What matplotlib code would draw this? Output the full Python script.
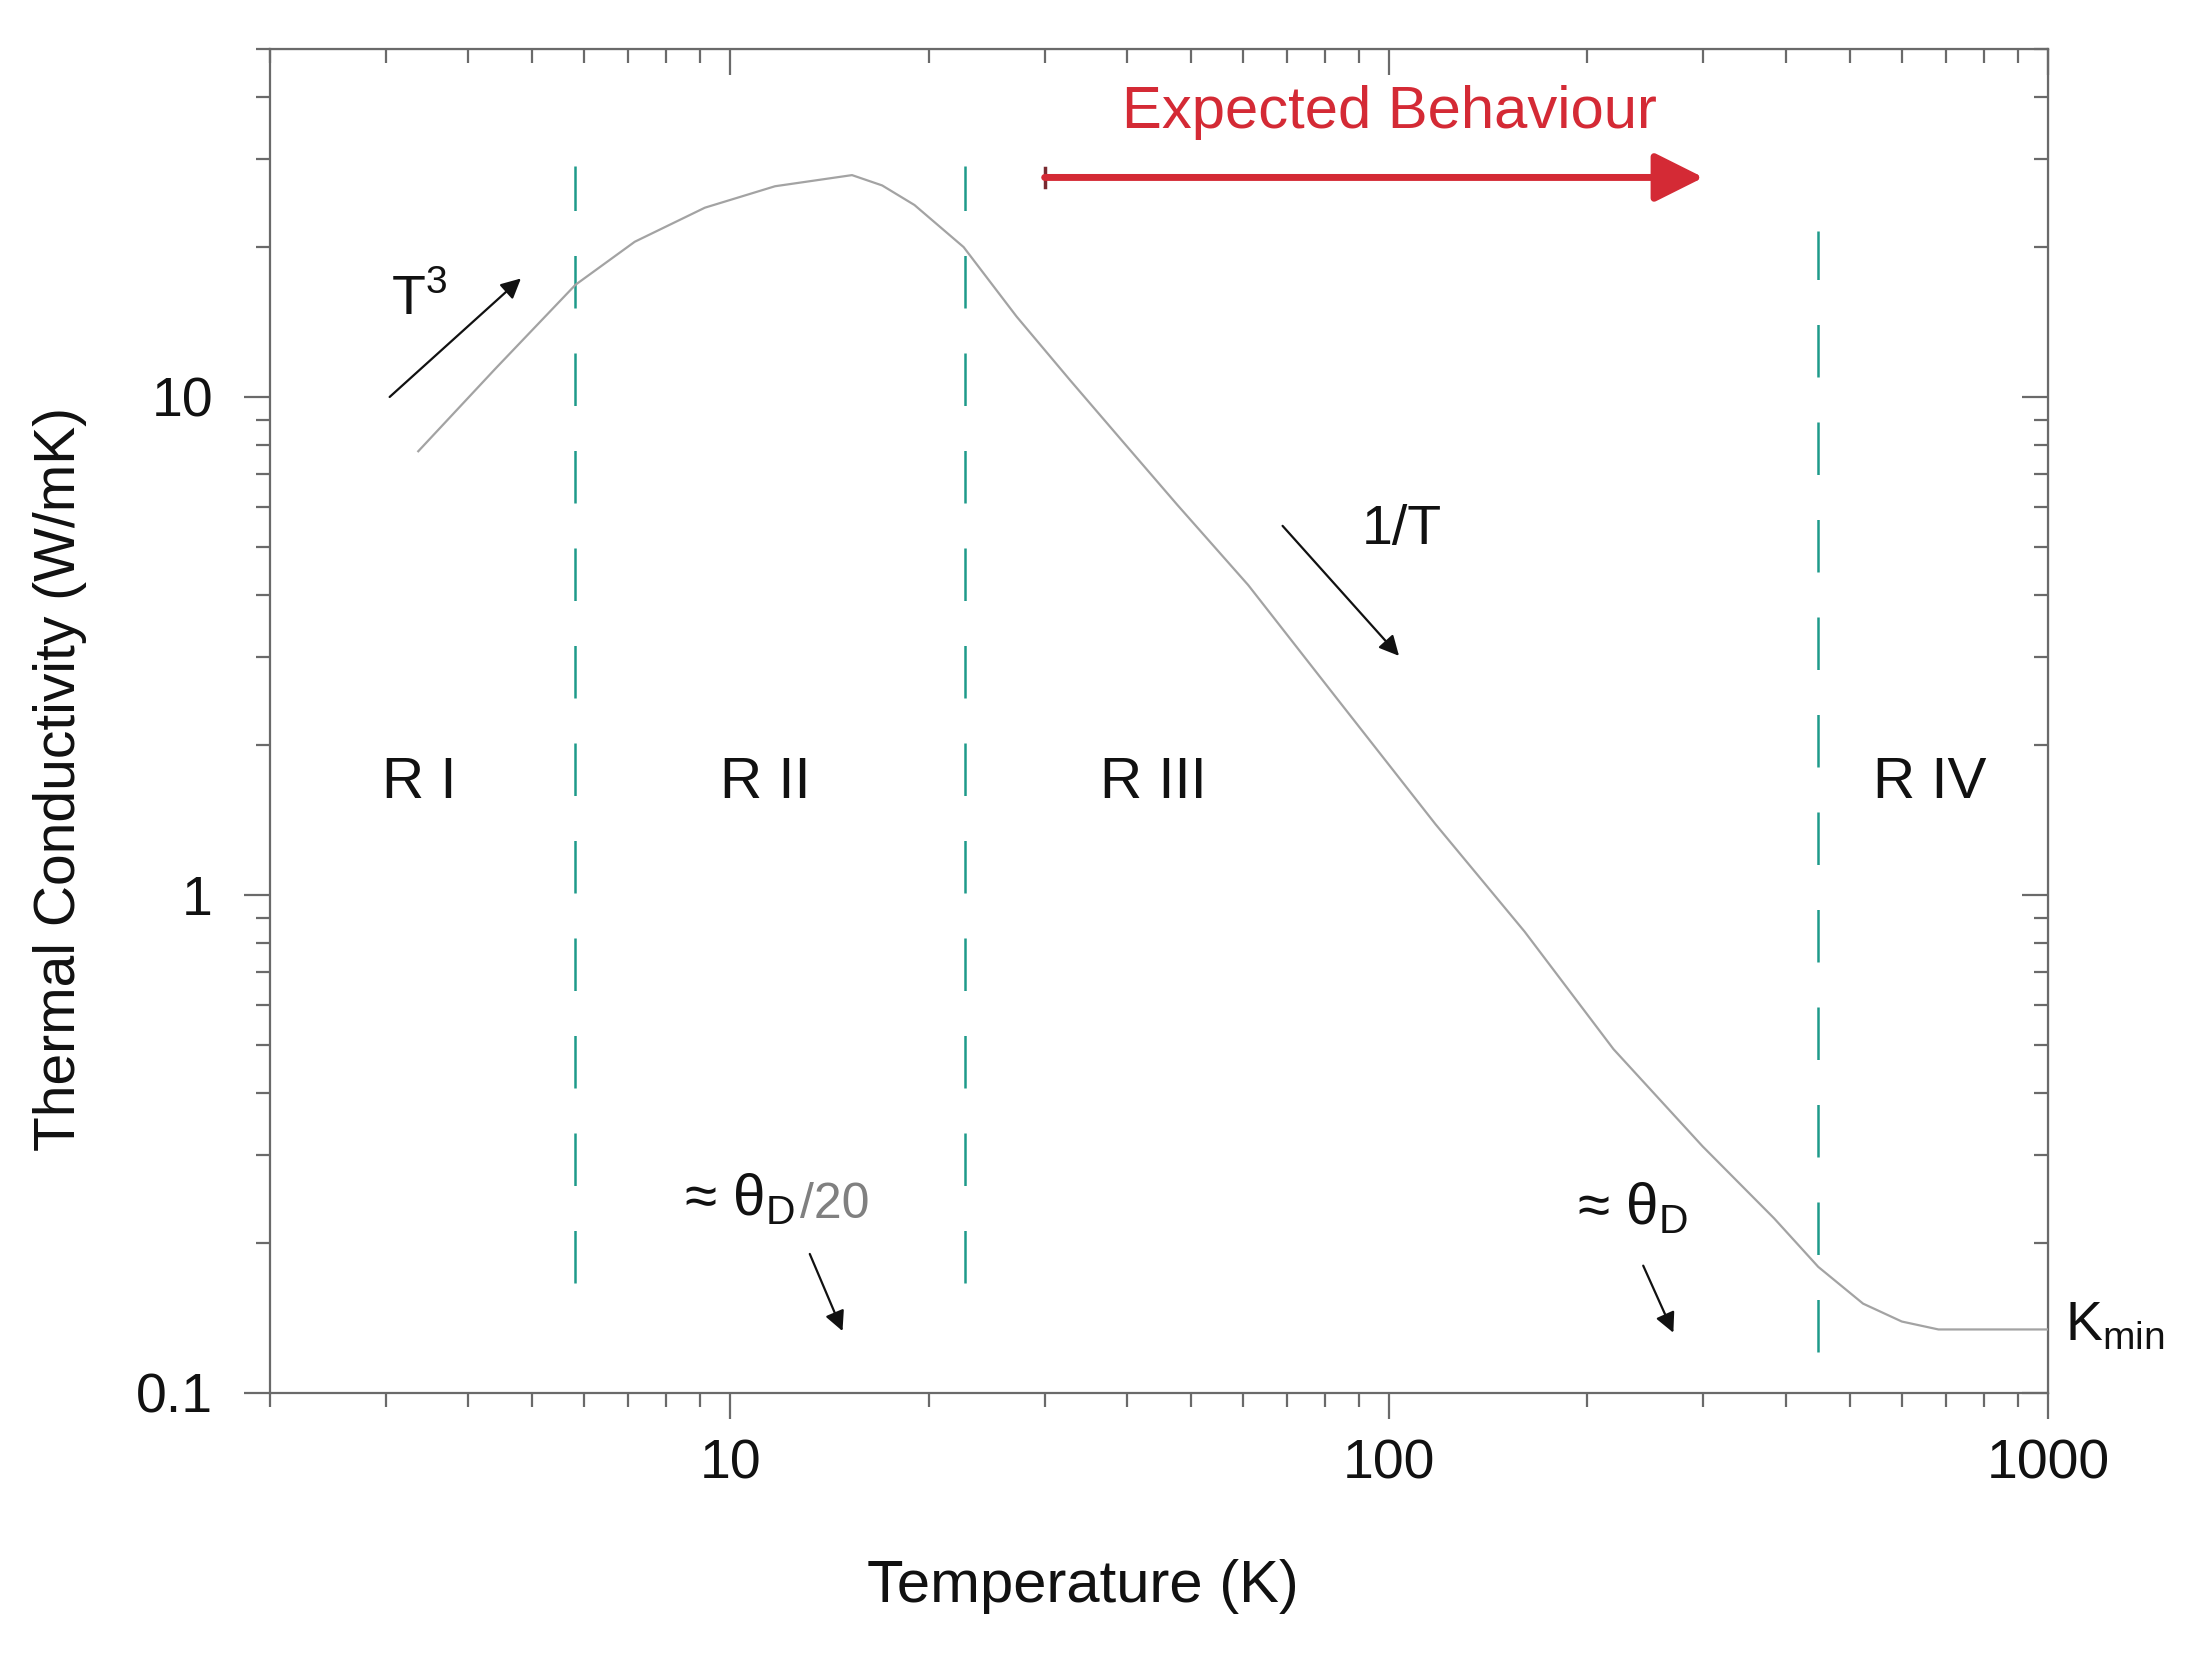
import matplotlib.pyplot as plt
import numpy as np

plt.rcParams['font.family'] = ['Liberation Sans', 'DejaVu Sans']
plt.rcParams['mathtext.fontset'] = 'custom'
plt.rcParams['mathtext.rm'] = 'Liberation Sans'

# データ
temp_k = [3.36, 4.40, 5.82, 7.16, 9.15, 11.69, 15.3, 17.0, 19.03, 22.6,
          27.2, 32.8, 39.5, 47.7, 61.1, 83.5, 117.6, 160.5, 219.0, 299.0,
          384.0, 448.0, 524.0, 600.0, 682.0, 1000.0]
kappa = [7.78, 11.4, 16.8, 20.5, 24.0, 26.5, 27.9, 26.6, 24.3, 20.0,
         14.5, 10.8, 8.11, 6.07, 4.19, 2.47, 1.386, 0.844, 0.49, 0.3126,
         0.224, 0.179, 0.151, 0.139, 0.134, 0.134]

boundary_t = [5.82, 22.7, 447.0]
boundary_kmin = [0.166, 0.166, 0.121]
boundary_kmax = [29.1, 29.1, 21.5]

region_labels = ['R I', 'R II', 'R III', 'R IV']
region_t = [3.37, 11.3, 43.8, 662.0]
region_k = 1.68

x_ticks = [10, 100, 1000]
x_tick_labels = ['10', '100', '1000']
y_ticks = [0.1, 1, 10]
y_tick_labels = ['0.1', '1', '10']

gray_axis = '#6a6a6a'
teal = '#1e9a8a'
red = '#d42a35'

fig = plt.figure(figsize=(21.92, 16.6), dpi=100)
ax = fig.add_axes([0.1231, 0.161, 0.8112, 0.8095])
ax.set_xscale('log')
ax.set_yscale('log')
ax.set_xlim(2, 1000)
ax.set_ylim(0.1, 50)

# 曲線
ax.plot(temp_k, kappa, color='#a3a3a3', lw=1.6, zorder=3)

# 境界線
for t, k0, k1 in zip(boundary_t, boundary_kmin, boundary_kmax):
    ax.plot([t, t], [k0, k1], color=teal, lw=1.8, linestyle=(0, (21, 18)), zorder=2)

# 領域ラベル
for lab, t in zip(region_labels, region_t):
    ax.text(t, region_k, lab, fontsize=42, ha='center', va='center', color='#111111')

# 期待される挙動
ax.annotate('', xy=(300, 27.6), xytext=(30, 27.6),
            arrowprops=dict(arrowstyle='-|>', color=red, lw=5, mutation_scale=75,
                            shrinkA=0, shrinkB=0))
ax.plot([30, 30], [26.4, 28.8], color='#7a2a30', lw=2.5)
ax.text(100, 37.2, 'Expected Behaviour', fontsize=43, color=red, ha='center', va='center')

# 注釈
arrow_kw = dict(arrowstyle='-|>', color='#111111', lw=1.6, mutation_scale=30,
                shrinkA=0, shrinkB=0)
ax.annotate('', xy=(4.81, 17.3), xytext=(3.04, 10.0), arrowprops=arrow_kw)
ax.text(3.05, 15.6, 'T$^\\mathregular{3}$', fontsize=40, ha='left', va='center', color='#111111')

ax.annotate('', xy=(103.5, 3.02), xytext=(68.9, 5.51), arrowprops=arrow_kw)
ax.text(104.5, 5.41, '1/T', fontsize=40, ha='center', va='center', color='#111111')

ax.annotate('', xy=(14.8, 0.133), xytext=(13.2, 0.19), arrowprops=arrow_kw)
ax.text(8.5, 0.244, '≈ θ$_\\mathregular{D}$', fontsize=42, ha='left', va='center', color='#111111')
ax.text(12.75, 0.238, '/20', fontsize=36, ha='left', va='center', color='#808080')

ax.annotate('', xy=(270, 0.132), xytext=(243, 0.18), arrowprops=arrow_kw)
ax.text(193, 0.234, '≈ θ$_\\mathregular{D}$', fontsize=42, ha='left', va='center', color='#111111')

ax.text(1060, 0.136, 'K$_\\mathregular{min}$', fontsize=40, ha='left', va='center',
        color='#111111', clip_on=False)

# 軸
for sp in ax.spines.values():
    sp.set_color(gray_axis)
    sp.set_linewidth(1.6)

ax.set_xticks(x_ticks)
ax.set_xticklabels(x_tick_labels)
ax.set_yticks(y_ticks)
ax.set_yticklabels(y_tick_labels)
ax.tick_params(which='both', direction='out', color=gray_axis, width=1.6,
               labelsize=40, labelcolor='#111111', top=False, right=False)
ax.tick_params(which='major', length=19)
ax.tick_params(which='minor', length=10)
ax.tick_params(axis='x', which='major', pad=14)
ax.tick_params(axis='y', which='major', pad=22)

sec_x = ax.secondary_xaxis('top')
sec_x.tick_params(which='both', direction='in', color=gray_axis, width=1.6, labeltop=False)
sec_x.tick_params(which='major', length=19)
sec_x.tick_params(which='minor', length=10)
sec_x.set_xticks(x_ticks)
sec_x.spines['top'].set_color(gray_axis)

sec_y = ax.secondary_yaxis('right')
sec_y.tick_params(which='both', direction='in', color=gray_axis, width=1.6, labelright=False)
sec_y.tick_params(which='major', length=19)
sec_y.tick_params(which='minor', length=10)
sec_y.set_yticks(y_ticks)
sec_y.spines['right'].set_color(gray_axis)

ax.set_xlabel('Temperature (K)', fontsize=43, color='#111111')
ax.set_ylabel('Thermal Conductivity (W/mK)', fontsize=41, color='#111111')
ax.xaxis.set_label_coords(0.4575, -0.124)
ax.yaxis.set_label_coords(-0.103, 0.457)

plt.savefig('out.png', dpi=100)
plt.close()
